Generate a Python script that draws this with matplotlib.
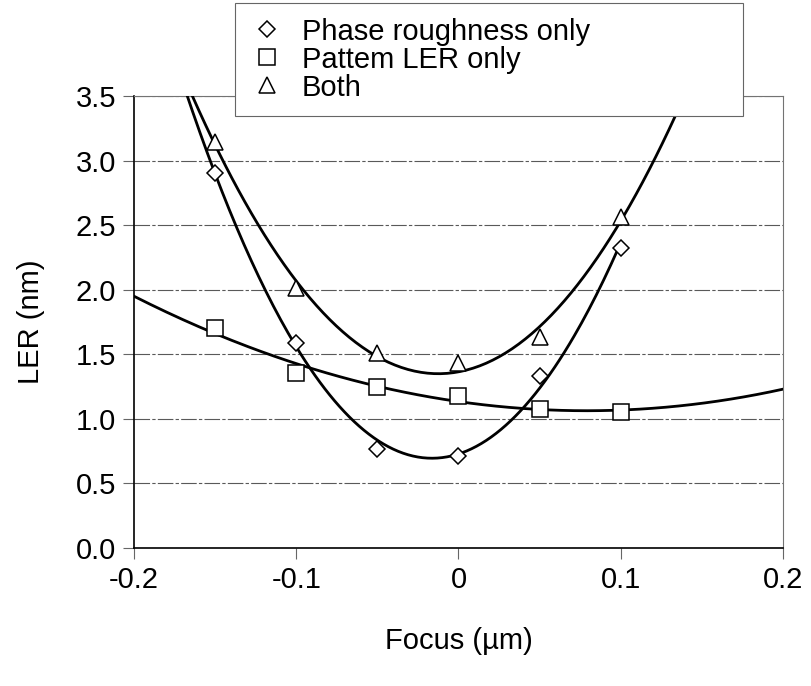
import numpy as np
from matplotlib import pyplot as plt

plt.rcParams['font.family'] = ['Liberation Sans', 'DejaVu Sans']

# focus positions (um)
focus = [-0.15, -0.10, -0.05, 0.0, 0.05, 0.10]

# LER (nm)
phaseOnly = [2.90, 1.59, 0.77, 0.71, 1.33, 2.32]
patternOnly = [1.70, 1.355, 1.25, 1.18, 1.08, 1.05]
both = [3.14, 2.01, 1.51, 1.43, 1.63, 2.56]

xTicks = [-0.2, -0.1, 0.0, 0.1, 0.2]
xTickLabels = ['-0.2', '-0.1', '0', '0.1', '0.2']
yTicks = [0.0, 0.5, 1.0, 1.5, 2.0, 2.5, 3.0, 3.5]
yTickLabels = ['0.0', '0.5', '1.0', '1.5', '2.0', '2.5', '3.0', '3.5']

fig = plt.figure(figsize=(8.12, 6.86), dpi=100)
ax = fig.add_axes([134 / 812, 138 / 686, 649 / 812, 452 / 686])

# 2nd order trendlines, like the spreadsheet did
def trend(y, x0, x1):
    coefs = np.polyfit(focus, y, 2)
    xs = np.linspace(x0, x1, 200)
    return xs, np.polyval(coefs, xs)

for y, x1 in [(phaseOnly, 0.1), (patternOnly, 0.2), (both, 0.2)]:
    xs, ys = trend(y, -0.2, x1)
    ax.plot(xs, ys, color='black', lw=2.0, zorder=3)

ax.plot(focus, phaseOnly, 'D', ms=8.5, mfc='white', mec='black', mew=1.1,
        label='Phase roughness only', zorder=4)
ax.plot(focus, patternOnly, 's', ms=11, mfc='white', mec='black', mew=1.1,
        label='Pattem LER only', zorder=4)
ax.plot(focus, both, '^', ms=11, mfc='white', mec='black', mew=1.1,
        label='Both', zorder=4)

ax.set_xlim(-0.2, 0.2)
ax.set_ylim(0, 3.5)
ax.set_xticks(xTicks)
ax.set_xticklabels(xTickLabels, fontsize=21)
ax.set_yticks(yTicks)
ax.set_yticklabels(yTickLabels, fontsize=21)
ax.tick_params(axis='both', direction='out', length=8, width=0.8, color='0.4', pad=5)

ax.yaxis.grid(True, color='0.35', lw=0.8, ls=(0, (14, 2, 3, 2)))
ax.set_axisbelow(True)
for side in ['left', 'bottom']:
    ax.spines[side].set_linewidth(1.2)
for side in ['top', 'right']:
    ax.spines[side].set_color('0.45')
    ax.spines[side].set_linewidth(0.8)

ax.set_xlabel('Focus (µm)', fontsize=21, labelpad=24)
ax.set_ylabel('LER (nm)', fontsize=21, labelpad=22)

leg = ax.legend(loc='upper left', bbox_to_anchor=(235 / 812, 1 - 113 / 686, 508 / 812, 110 / 686),
                bbox_transform=fig.transFigure, mode='expand', borderaxespad=0,
                fontsize=21, labelspacing=0.0, handletextpad=0.6, handlelength=1.2,
                borderpad=0.5, fancybox=False, framealpha=1, edgecolor='0.4')
leg.get_frame().set_linewidth(0.8)
leg.set_zorder(10)

plt.savefig('out.png', dpi=100)
